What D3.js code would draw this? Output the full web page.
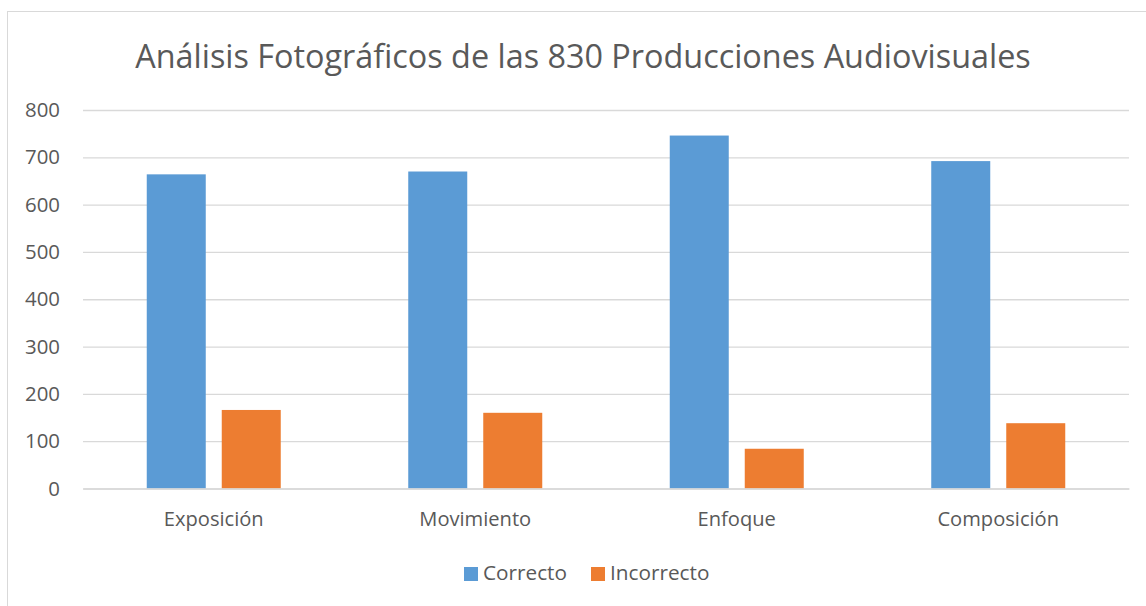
<!DOCTYPE html>
<html><head><meta charset="utf-8">
<script src="https://cdnjs.cloudflare.com/ajax/libs/d3/7.8.5/d3.min.js"></script>
<style>body{margin:0;background:#fff}svg{display:block}</style>
</head><body><svg id="c" width="1146" height="606"></svg>
<script>
const categories = ["Exposición", "Movimiento", "Enfoque", "Composición"];
const seriesNames = ["Correcto", "Incorrecto"];
const correcto = [664, 670, 746, 692];
const incorrecto = [166, 160, 84, 138];
const yTicks = [0, 100, 200, 300, 400, 500, 600, 700, 800];
const title = "Análisis Fotográficos de las 830 Producciones Audiovisuales";
const colors = ["#5B9BD5", "#ED7D31"];

const font = "'Open Sans', sans-serif";
const svg = d3.select("#c");
svg.append("rect").attr("x", 7.5).attr("y", 11.5).attr("width", 1150).attr("height", 620)
  .attr("fill", "#fff").attr("stroke", "#d9d9d9");

function fit(sel, target, base) {
  const w = sel.node().getComputedTextLength();
  return base * target / w;
}

const m = {l: 83, r: 1129, t: 110, b: 488.5};
const x0 = d3.scaleBand().domain(categories).range([m.l, m.r]);
const x1 = d3.scaleBand().domain(seriesNames).range([0, 134]).paddingInner(16 / 75);
const y = d3.scaleLinear().domain([0, 800]).range([m.b, m.t]);

// measure sizes
const probe = svg.append("text").style("font", `20px ${font}`).text("Exposición");
const catSize = fit(probe, 100, 20);
probe.text("800");
const tickSize = fit(probe, 35, 20);
probe.text("Correcto");
const legSize = fit(probe, 84, 20);
probe.remove();

const yAxis = svg.append("g").attr("transform", `translate(${m.l},0)`)
  .call(d3.axisLeft(y).tickValues(yTicks).tickSize(-(m.r - m.l)).tickPadding(23));
yAxis.select(".domain").remove();
yAxis.selectAll(".tick line").attr("stroke", "#d9d9d9").attr("stroke-width", 1.3);
yAxis.selectAll(".tick text").attr("fill", "#595959").style("font", `${tickSize}px ${font}`);

const data = categories.map((c, i) => ({c, v: [correcto[i], incorrecto[i]]}));
const g = svg.append("g").selectAll("g").data(data).join("g")
  .attr("transform", d => `translate(${x0(d.c) + x0.bandwidth() / 2 - 67},0)`);
g.selectAll("rect").data(d => d.v.map((v, j) => ({s: seriesNames[j], v, j}))).join("rect")
  .attr("x", d => x1(d.s)).attr("width", x1.bandwidth())
  .attr("y", d => y(d.v)).attr("height", d => y(0) - y(d.v))
  .attr("fill", d => colors[d.j]);

const xAxis = svg.append("g").attr("transform", `translate(0,${m.b})`)
  .call(d3.axisBottom(x0).tickSize(0).tickPadding(23));
xAxis.select(".domain").attr("stroke", "#d9d9d9").attr("stroke-width", 1.3);
xAxis.selectAll(".tick text").attr("fill", "#595959").style("font", `${catSize}px ${font}`);

const t = svg.append("text").attr("x", 583).attr("y", 68).attr("text-anchor", "middle")
  .attr("fill", "#595959").style("font", `30px ${font}`).text(title);
t.style("font-size", fit(t, 896, 30) + "px");

const leg = svg.append("g");
const lx = [464, 591];
seriesNames.forEach((s, i) => {
  leg.append("rect").attr("x", lx[i]).attr("y", 567).attr("width", 14).attr("height", 14).attr("fill", colors[i]);
  leg.append("text").attr("x", lx[i] + 19).attr("y", 580).attr("fill", "#595959")
    .style("font", `${legSize}px ${font}`).text(s);
});
</script></body></html>
